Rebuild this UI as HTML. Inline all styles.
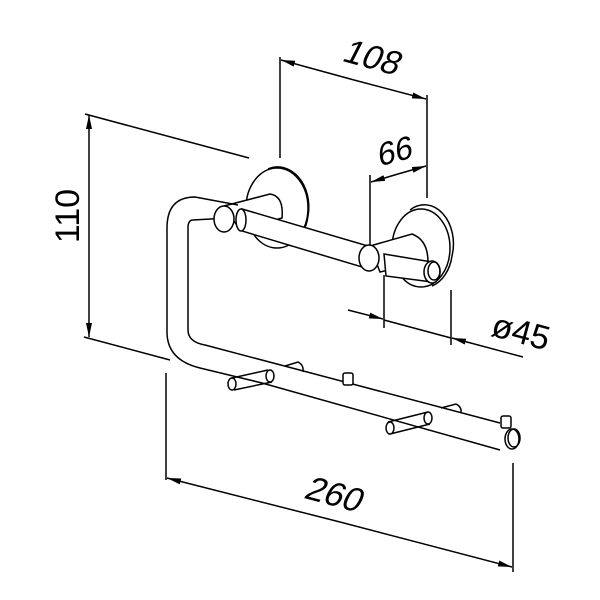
<!DOCTYPE html>
<html><head><meta charset="utf-8"><style>
html,body{margin:0;padding:0;background:#fff;}
svg{display:block}
text{font-family:"Liberation Sans",sans-serif;fill:#000;font-weight:normal}
</style></head><body>
<svg width="600" height="600" viewBox="0 0 600 600" xmlns="http://www.w3.org/2000/svg">
<defs>
<marker id="a" viewBox="0 0 14 6" refX="14" refY="3" markerWidth="14" markerHeight="6" orient="auto" markerUnits="userSpaceOnUse">
<path d="M0,0 L14,3 L0,6 Z" fill="#000"/></marker>
</defs>
<g stroke="#000" stroke-width="1.5" fill="none">
<line x1="280" y1="57" x2="280" y2="158"/>
<line x1="427" y1="95" x2="427" y2="198"/>
<line x1="354" y1="80" x2="281" y2="60" marker-end="url(#a)"/>
<line x1="354" y1="80" x2="426" y2="99" marker-end="url(#a)"/>
<line x1="370" y1="175" x2="370" y2="245"/>
<line x1="398" y1="174" x2="371" y2="182" marker-end="url(#a)"/>
<line x1="398" y1="174" x2="426" y2="166" marker-end="url(#a)"/>
<line x1="85" y1="114" x2="249" y2="158"/>
<line x1="84" y1="337" x2="170" y2="360"/>
<line x1="89" y1="226" x2="89" y2="115" marker-end="url(#a)"/>
<line x1="89" y1="226" x2="89" y2="337" marker-end="url(#a)"/>
<line x1="166" y1="373" x2="166" y2="480"/>
<line x1="513" y1="463" x2="513" y2="572"/>
<line x1="340" y1="522" x2="167" y2="478" marker-end="url(#a)"/>
<line x1="340" y1="522" x2="512" y2="567" marker-end="url(#a)"/>
<line x1="384" y1="275" x2="384" y2="328"/>
<line x1="451" y1="290" x2="451" y2="345"/>
<line x1="348" y1="310" x2="383" y2="319" marker-end="url(#a)"/>
<line x1="523" y1="357" x2="452" y2="338" marker-end="url(#a)"/>
<line x1="384" y1="320" x2="451" y2="338"/>
<path d="M268 169 A31 40 0 0 1 308 216 A31 40 0 0 1 290 246" fill="#fff"/>
<ellipse cx="277" cy="208" rx="31" ry="40" fill="#fff"/>
<path d="M410 210 A29 39 0 0 1 452 256 A29 39 0 0 1 432 286" fill="#fff"/>
<ellipse cx="421" cy="248" rx="29" ry="39" fill="#fff"/>
<path d="M224 206 L270 194 Q284 196 282 218 L240 230 Z" fill="#fff"/>
<path d="M370 246 L412 234 Q428 240 428 262 L380 272 Z" fill="#fff"/>
<path d="M238 205 L195 197 Q167 197 167 228 L167 332 Q167 360 200 368 L262 383"/>
<path d="M228 218 L193 220 Q188 220 188 228 L188 330 Q188 342 205 345 L500 423"/>
<path d="M262 383 L500 450"/>
<ellipse cx="512" cy="439" rx="7" ry="10" fill="#fff"/>
<ellipse cx="514" cy="438" rx="6" ry="9"/>
<path d="M242 209 L368 246 L362 267 L242 231 Z" fill="#fff"/>
<ellipse cx="241" cy="220" rx="5" ry="11" fill="#fff"/>
<ellipse cx="224" cy="219" rx="10" ry="13" fill="#fff"/>
<path d="M384 254 L432 262 L432 282 L386 276 Z" fill="#fff"/>
<ellipse cx="369" cy="258" rx="10" ry="13" fill="#fff"/>
<ellipse cx="432" cy="272" rx="8" ry="11" fill="#fff"/>
<ellipse cx="434" cy="271" rx="6" ry="9"/>
<path d="M232 378 L268 370 M234 390 L272 382"/>
<ellipse cx="270" cy="376" rx="4" ry="6" fill="#fff"/>
<ellipse cx="232" cy="384" rx="4" ry="6" fill="#fff"/>
<path d="M388 422 L428 412 M390 434 L430 424"/>
<ellipse cx="428" cy="418" rx="4" ry="6" fill="#fff"/>
<ellipse cx="390" cy="428" rx="4" ry="6" fill="#fff"/>
<path d="M285 366 L298 362 Q304 365 303 372"/>
<path d="M441 408 L456 404 Q462 407 461 413"/>
<rect x="343" y="373" width="10" height="12" rx="2" fill="#fff"/>
<rect x="501" y="416" width="10" height="12" rx="2" fill="#fff"/>
</g>
<text x="0" y="0" font-size="34" transform="translate(368,68) rotate(15) skewX(-12)" text-anchor="middle">108</text>
<text x="0" y="0" font-size="32" transform="translate(396,162) rotate(-15) skewX(-12)" text-anchor="middle">66</text>
<text x="0" y="0" font-size="34" transform="translate(79,216) rotate(-90)" text-anchor="middle">110</text>
<text x="0" y="0" font-size="34" transform="translate(330,505) rotate(15) skewX(-12)" text-anchor="middle">260</text>
<text x="0" y="0" font-size="34" transform="translate(518,343) rotate(15)" text-anchor="middle">ø45</text>
</svg>
</body></html>
